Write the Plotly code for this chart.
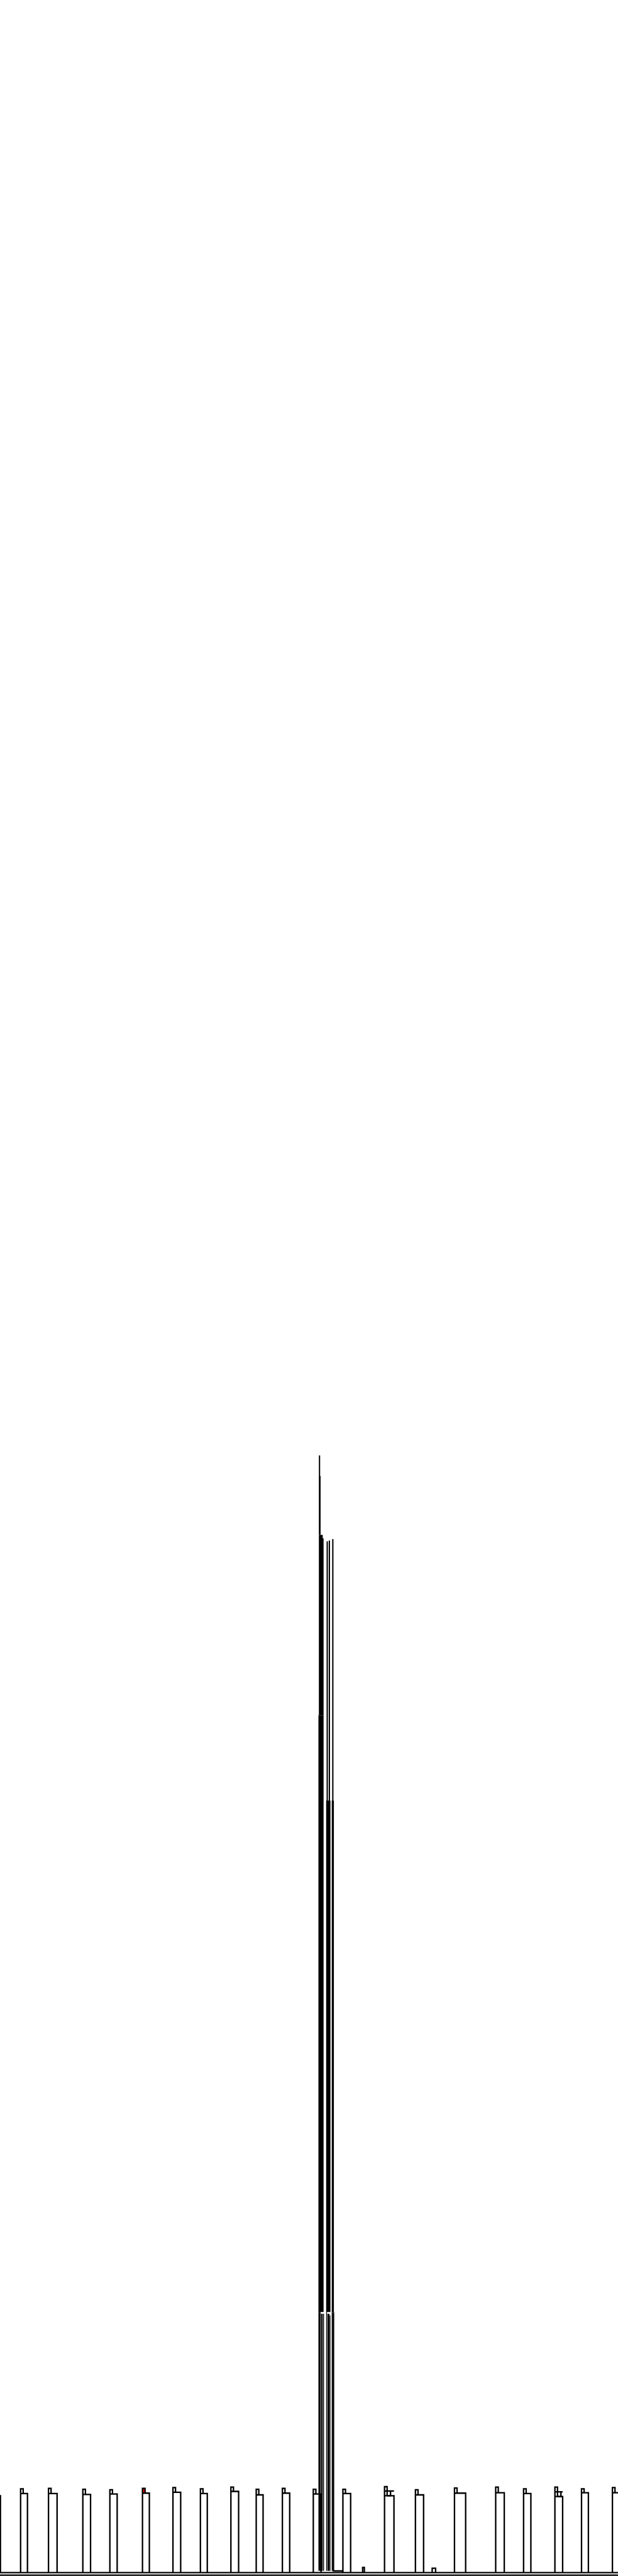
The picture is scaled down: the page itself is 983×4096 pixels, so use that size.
import plotly.graph_objects as go

# ---------------- data (x in reference pixel units, y = height above baseline) ----------------
pillar_left = [-6, 48, 113, 193, 256, 332, 403, 467, 538, 597, 658, 730, 799, 896, 968, 1059, 1155, 1220, 1293, 1355, 1427]
pillar_right = [1, 64, 133, 211, 273, 348, 421, 483, 556, 613, 675, 748, 817, 918, 987, 1085, 1175, 1237, 1311, 1371, 1446]
pillar_top = [179, 195, 196, 194, 193, 196, 198, 195, 199, 194, 196, 194, 194, 200, 193, 197, 199, 195, 199, 195, 198]
pillar_shoulder = [179, 184, 184, 182, 183, 185, 187, 184, 189, 181, 185, 183, 184, 179, 181, 185, 186, 184, 177, 186, 186]
pillar_second_shoulder = [None, None, None, None, None, None, None, None, None, None, None, None, None, 190, None, None, None, None, 188, None, None]
highlight_index = 5  # pillar whose top loop is red

bump_center = [847, 1011]
bump_half = [2, 4]
bump_height = [12, 10]

# tall cluster: solid column segments (x0, x1, y_bottom, y_top)
cluster_solid = [
    (743, 746, 2554, 2602),
    (743, 747, 2417, 2554),
    (743, 752, 2409, 2417),
    (743, 754, 1997, 2409),
    (742, 754, 607, 1997),
    (761, 764, 1798, 2402),
    (766, 769, 1798, 2404),
    (760, 770, 607, 1798),
    (774, 777, 1798, 2407),
    (773, 778, 607, 1798),
]
# lower split strands (x0, x1, y_top)
cluster_strands = [
    (742, 747, 607), (748, 752, 603), (753, 755, 603),
    (760, 762, 607), (763, 767.5, 603), (768, 770, 599),
    (773, 775, 607), (775.6, 778, 603),
]
cluster_foot = (777, 798, 4)

baseline_levels = [0, -6]

LW = 2.3
BLACK = "#000000"

fig = go.Figure()

# pillars
px, py = [], []
for i, (L, R, T, Sh) in enumerate(zip(pillar_left, pillar_right, pillar_top, pillar_shoulder)):
    px += [L, L, L + 6, L + 6, None, L, R, R, None]
    py += [0, T, T, Sh, None, Sh, Sh, 0, None]
    s2 = pillar_second_shoulder[i]
    if s2 is not None:
        px += [L + 6, L + 14, L + 14, None, L, R, None]
        py += [Sh, Sh, s2, None, s2, s2, None]

# red loop on highlighted pillar
hl = highlight_index
fig.add_trace(go.Scatter(
    x=[pillar_left[hl], pillar_left[hl] + 6, pillar_left[hl] + 6, pillar_left[hl], pillar_left[hl]],
    y=[pillar_top[hl], pillar_top[hl], pillar_shoulder[hl], pillar_shoulder[hl], pillar_top[hl]],
    mode="lines", fill="toself", fillcolor="#ff0000", line=dict(width=0), hoverinfo="skip"))

fig.add_trace(go.Scatter(x=px, y=py, mode="lines", line=dict(color=BLACK, width=LW), hoverinfo="skip"))

# small bumps
bx, by = [], []
for c, h, t in zip(bump_center, bump_half, bump_height):
    bx += [c - h, c - h, c + h, c + h, None]
    by += [0, t, t, 0, None]
fig.add_trace(go.Scatter(x=bx, y=by, mode="lines", line=dict(color=BLACK, width=LW), hoverinfo="skip"))

# cluster solids
for x0, x1, y0, y1 in cluster_solid:
    fig.add_trace(go.Scatter(x=[x0, x1, x1, x0, x0], y=[y0, y0, y1, y1, y0], mode="lines",
                             fill="toself", fillcolor=BLACK, line=dict(width=0), hoverinfo="skip"))
for x0, x1, yt in cluster_strands:
    fig.add_trace(go.Scatter(x=[x0, x1, x1, x0, x0], y=[4, 4, yt, yt, 4], mode="lines",
                             fill="toself", fillcolor=BLACK, line=dict(width=0), hoverinfo="skip"))
fx0, fx1, fy = cluster_foot
fig.add_trace(go.Scatter(x=[fx0, fx0, fx1, fx1], y=[607, fy, fy, 0], mode="lines",
                         line=dict(color=BLACK, width=LW), hoverinfo="skip"))

# baselines
for lv in baseline_levels:
    fig.add_trace(go.Scatter(x=[0, 1440], y=[lv, lv], mode="lines",
                             line=dict(color=BLACK, width=LW), hoverinfo="skip"))

fig.update_layout(
    width=983, height=4096,
    margin=dict(l=0, r=0, t=0, b=0),
    paper_bgcolor="#ffffff", plot_bgcolor="#ffffff",
    showlegend=False,
    xaxis=dict(range=[0, 1440], visible=False, fixedrange=True),
    yaxis=dict(range=[-8, 5992], visible=False, fixedrange=True),
)

fig.write_html(
    "out.html",
    config={"displayModeBar": False},
    post_script="document.body.style.margin='0px';document.body.style.overflow='hidden';",
)
